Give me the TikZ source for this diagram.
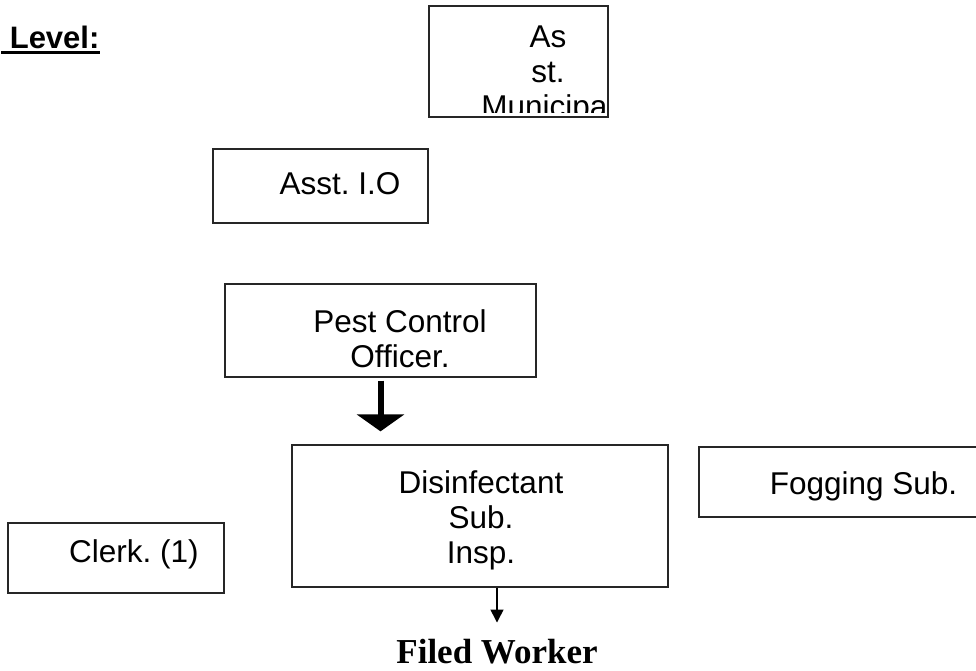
\documentclass[tikz,border=0pt]{standalone}
\usepackage{fontspec}
\setmainfont{Liberation Sans}
\newfontfamily\timesfont{Liberation Serif}
\usetikzlibrary{arrows.meta,calc}
\frenchspacing

\tikzset{
  box/.style={shape=rectangle, draw=black!85, line width=1.3pt, inner sep=0pt},
  txt/.style={font=\fontsize{31.5}{35}\selectfont, align=center, inner sep=0pt, anchor=base},
}

\begin{document}
\begin{tikzpicture}[x=1pt, y=-1pt]
\clip (0,0) rectangle (976,670);
\fill[white] (0,0) rectangle (976,670);

                \node[box, minimum width=179pt, minimum height=111pt] (muni) at (518.5, 61.5) {};
                \node[box, minimum width=215pt, minimum height=74pt] (asst) at (320.5, 186) {};
                \node[box, minimum width=311pt, minimum height=93pt] (pest) at (380.5, 330.5) {};
                \node[box, minimum width=376pt, minimum height=142pt] (disinf) at (480, 516) {};
                \node[box, minimum width=300pt, minimum height=70pt] (fog) at (849, 482) {};
                \node[box, minimum width=216pt, minimum height=70pt] (clerk) at (116, 558) {};

                \begin{scope}
                \clip (430, 8) rectangle (607, 112);
                \node[txt] (muni-t) at (548, 117) {As\\st.\\Municipal};
                \end{scope}
                \node[txt] (asst-t) at (340, 194) {Asst. I.O};
                \node[txt] (pest-t) at (400, 367) {Pest Control\\Officer.};
                \node[txt] (disinf-t) at (481, 563) {Disinfectant\\Sub.\\Insp.};
                \node[txt] (fog-t) at (863.5, 494) {Fogging Sub.};
                \node[txt] (clerk-t) at (134, 562) {Clerk. (1)};

                \node[txt, anchor=base west, font=\fontsize{31}{35}\selectfont\bfseries] (lvl) at (1, 48) {\ Level:};
                \node[txt, font=\fontsize{35}{40}\selectfont\timesfont\bfseries] (fw) at (497, 663) {Filed Worker};

                \draw[line width=3pt] ($(lvl.base west)+(0,4)$) -- ($(lvl.base east)+(0,4)$);
                \draw[line width=6pt, -{Triangle[width=47pt,length=17pt]}, shorten <=3pt, shorten >=13pt] (pest.south) -- (pest.south |- disinf.north);
                \draw[line width=1.5pt, -{Triangle[width=13pt,length=13pt]}, shorten >=16pt] (fw.north |- disinf.south) -- (fw.north);
\end{tikzpicture}
\end{document}
